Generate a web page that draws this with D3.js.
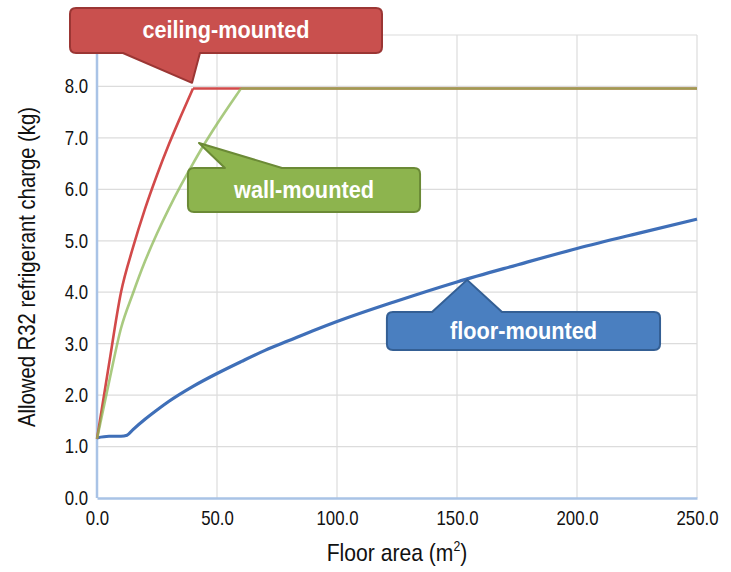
<!DOCTYPE html>
<html>
<head>
<meta charset="utf-8">
<script src="https://cdn.jsdelivr.net/npm/d3@7"></script>
<style>
  body { margin: 0; background: #fff; }
  svg text { font-family: "Liberation Sans Narrow", "Arial Narrow", "Liberation Sans", Arial, sans-serif; }
</style>
</head>
<body>
<div id="main"></div>
<script>
// values
const ceilingArea   = [0, 5, 10, 15, 20, 25, 30, 35, 40, 60, 100, 150, 200, 250];
const ceilingCharge = [1.15, 2.6, 4.0, 4.87, 5.62, 6.28, 6.88, 7.43, 7.96, 7.96, 7.96, 7.96, 7.96, 7.96];

const wallArea   = [0, 5, 10, 15, 20, 25, 30, 35, 40, 45, 50, 55, 60, 100, 150, 200, 250];
const wallCharge = [1.15, 2.25, 3.3, 3.98, 4.6, 5.14, 5.63, 6.08, 6.5, 6.9, 7.27, 7.62, 7.96, 7.96, 7.96, 7.96, 7.96];

const floorArea   = [0, 5, 10, 12.5, 15, 20, 25, 30, 40, 50, 60, 70, 80, 90, 100, 125, 150, 175, 200, 225, 250];
const floorCharge = [1.17, 1.2, 1.2, 1.22, 1.33, 1.53, 1.71, 1.88, 2.17, 2.42, 2.65, 2.87, 3.06, 3.25, 3.43, 3.83, 4.2, 4.53, 4.85, 5.14, 5.42];

const xTicks = [0, 50, 100, 150, 200, 250];
const yTicks = [0, 1, 2, 3, 4, 5, 6, 7, 8];
const yGrid  = [1, 2, 3, 4, 5, 6, 7, 8, 9];

const labels = ["ceiling-mounted", "wall-mounted", "floor-mounted"];

const w = 731;
const h = 572;
const margin = { top: 35, right: 34, bottom: 74, left: 97 };
const squeeze = 0.84; // no narrow font installed, so squeeze the regular one

const svg = d3.select("#main").append("svg")
  .attr("width", w)
  .attr("height", h);

const x = d3.scaleLinear().domain([0, 250]).range([margin.left, w - margin.right]);
const y = d3.scaleLinear().domain([0, 9]).range([h - margin.bottom, margin.top]);

// grid
svg.append("g").selectAll("line.v")
  .data(xTicks.slice(1))
  .enter().append("line")
  .attr("x1", d => x(d)).attr("x2", d => x(d))
  .attr("y1", y(0)).attr("y2", y(9))
  .attr("stroke", "#dcdcdc").attr("stroke-width", 1.2);

svg.append("g").selectAll("line.h")
  .data(yGrid)
  .enter().append("line")
  .attr("x1", x(0)).attr("x2", x(250))
  .attr("y1", d => y(d)).attr("y2", d => y(d))
  .attr("stroke", "#dcdcdc").attr("stroke-width", 1.2);

// axes
const yAxis = d3.axisLeft(y).tickValues(yTicks).tickFormat(d3.format(".1f")).tickSize(0).tickPadding(9);
const xAxis = d3.axisBottom(x).tickValues(xTicks).tickFormat(d3.format(".1f")).tickSize(0).tickPadding(13);

const gy = svg.append("g").attr("transform", "translate(" + x(0) + ",0)").call(yAxis);
const gx = svg.append("g").attr("transform", "translate(0," + y(0) + ")").call(xAxis);

[gx, gy].forEach(g => {
  g.select(".domain").attr("stroke", "#a9c3e6").attr("stroke-width", 2.5);
  g.selectAll("text").attr("font-size", 20).attr("fill", "#111");
});
gy.select(".domain").attr("d", "M0," + y(0) + "V" + y(8.7));
gy.selectAll("text").attr("x", 0).attr("transform", "translate(-9,0) scale(" + squeeze + ",1)");
gx.selectAll("text").attr("transform", "scale(" + squeeze + ",1)");

// lines: smooth rising part, straight cap part
const line = d3.line().x(d => x(d[0])).y(d => y(d[1])).curve(d3.curveMonotoneX);

function seriesPath(s) {
  const pts = s.area.map((a, i) => [a, s.charge[i]]);
  const top = d3.max(s.charge);
  const k = s.charge.indexOf(top);
  if (k === pts.length - 1) return line(pts);
  return line(pts.slice(0, k + 1)) + line(pts.slice(k));
}

const series = [
  { area: floorArea,   charge: floorCharge,   color: "#3f6fb8", width: 3.2, op: 1 },
  { area: ceilingArea, charge: ceilingCharge, color: "#d24a4a", width: 2.6, op: 1 },
  { area: wallArea,    charge: wallCharge,    color: "#8cb856", width: 2.6, op: 0.75 }
];

svg.append("g").selectAll("path")
  .data(series)
  .enter().append("path")
  .attr("d", seriesPath)
  .attr("fill", "none")
  .attr("stroke", s => s.color)
  .attr("stroke-width", s => s.width)
  .attr("stroke-opacity", s => s.op)
  .attr("stroke-linejoin", "round");

// callouts (box and tail in data units)
const callouts = [
  { text: labels[0], box: [-11.25, 118.75, 9.525, 8.65], tail: [10.8, 42.9], tip: [39.6, 8.07], side: "bottom",
    fill: "#c9504e", stroke: "#9b3634", len: 167 },
  { text: labels[1], box: [37.9, 134.6, 6.415, 5.56], tail: [53.3, 77.1], tip: [42.5, 6.9], side: "top",
    fill: "#8db44e", stroke: "#6b8a36", len: 140 },
  { text: labels[2], box: [120.8, 234.6, 3.616, 2.877], tail: [139.6, 168.75], tip: [154.2, 4.24], side: "top",
    fill: "#4a7fc0", stroke: "#345f94", len: 147 }
];

function calloutPath(c) {
  const x0 = x(c.box[0]), x1 = x(c.box[1]);
  const y0 = y(c.box[2]), y1 = y(c.box[3]);
  const r = 6;
  const ta = x(c.tail[0]), tb = x(c.tail[1]);
  const tx = x(c.tip[0]), ty = y(c.tip[1]);
  let p = "M" + (x0 + r) + "," + y0;
  if (c.side === "top") p += "L" + ta + "," + y0 + "L" + tx + "," + ty + "L" + tb + "," + y0;
  p += "L" + (x1 - r) + "," + y0 + "Q" + x1 + "," + y0 + " " + x1 + "," + (y0 + r);
  p += "L" + x1 + "," + (y1 - r) + "Q" + x1 + "," + y1 + " " + (x1 - r) + "," + y1;
  if (c.side === "bottom") p += "L" + tb + "," + y1 + "L" + tx + "," + ty + "L" + ta + "," + y1;
  p += "L" + (x0 + r) + "," + y1 + "Q" + x0 + "," + y1 + " " + x0 + "," + (y1 - r);
  p += "L" + x0 + "," + (y0 + r) + "Q" + x0 + "," + y0 + " " + (x0 + r) + "," + y0 + "Z";
  return p;
}

const cg = svg.append("g").selectAll("g")
  .data(callouts)
  .enter().append("g");

cg.append("path")
  .attr("d", calloutPath)
  .attr("fill", c => c.fill)
  .attr("stroke", c => c.stroke)
  .attr("stroke-width", 2)
  .attr("stroke-linejoin", "round");

cg.append("text")
  .attr("x", c => (x(c.box[0]) + x(c.box[1])) / 2)
  .attr("y", c => (y(c.box[2]) + y(c.box[3])) / 2 + 8)
  .attr("text-anchor", "middle")
  .attr("font-size", 24)
  .attr("font-weight", "bold")
  .attr("fill", "#fff")
  .attr("textLength", c => c.len)
  .attr("lengthAdjust", "spacingAndGlyphs")
  .text(c => c.text);

// axis titles
const xt = svg.append("text")
  .attr("transform", "translate(397,561) scale(0.88,1)")
  .attr("text-anchor", "middle")
  .attr("font-size", 24)
  .attr("fill", "#111");
xt.append("tspan").text("Floor area (m");
xt.append("tspan").attr("font-size", 14).attr("dy", -10).text("2");
xt.append("tspan").attr("dy", 10).text(")");

svg.append("text")
  .attr("transform", "translate(35,267) rotate(-90)")
  .attr("text-anchor", "middle")
  .attr("font-size", 24)
  .attr("fill", "#111")
  .attr("textLength", 320)
  .attr("lengthAdjust", "spacingAndGlyphs")
  .text("Allowed R32 refrigerant charge (kg)");
</script>
</body>
</html>
